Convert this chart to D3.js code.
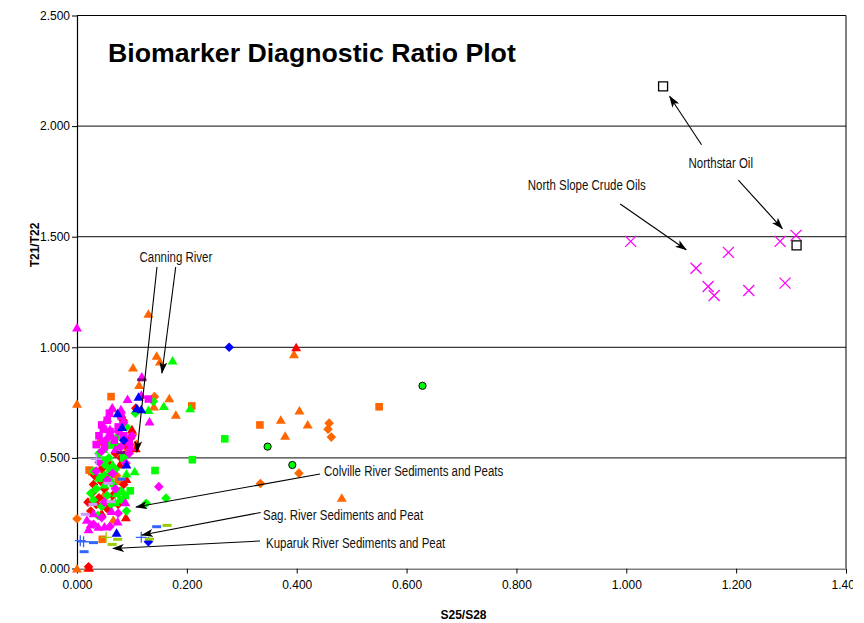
<!DOCTYPE html>
<html>
<head>
<meta charset="utf-8">
<script src="https://cdn.jsdelivr.net/npm/d3@7"></script>
<style>
  body { margin: 0; background: #fff; }
  text { font-family: "Liberation Sans", Arial, sans-serif; }
</style>
</head>
<body>
<svg id="chart" width="864" height="623"></svg>
<script>
// ---- axis ticks ----
const xTicks = [0, 0.2, 0.4, 0.6, 0.8, 1.0, 1.2, 1.4];
const yTicks = [0, 0.5, 1.0, 1.5, 2.0, 2.5];

// ---- sample groups: [S25/S28, T21/T22] ----
const orangeTriangles = [[0,0.745],[0,0],[0.02,0.003],[0.130,1.152],[0.145,0.962],[0.151,0.936],[0.102,0.909],[0.113,0.830],[0.168,0.770],[0.140,0.732],[0.065,0.725],[0.180,0.695],[0.039,0.572],[0.066,0.220],[0.078,0.352],[0.395,0.969],[0.405,0.714],[0.371,0.672],[0.420,0.651],[0.379,0.600],[0.482,0.320],[0.092,0.545],[0.048,0.330]];
const orangeSquares = [[0.062,0.777],[0.209,0.735],[0.333,0.649],[0.550,0.731],[0.027,0.438],[0.046,0.132],[0.022,0.445],[0.075,0.395]];
const orangeDiamonds = [[0,0.225],[0.141,0.777],[0.101,0.607],[0.459,0.657],[0.457,0.630],[0.463,0.594],[0.404,0.431],[0.334,0.384],[0.108,0.560],[0.072,0.420]];
const redDiamonds = [[0.021,0.008],[0.107,0.725],[0.084,0.669],[0.081,0.684],[0.027,0.340],[0.030,0.380],[0.040,0.320],[0.035,0.290],[0.050,0.360],[0.060,0.420],[0.045,0.450],[0.070,0.520],[0.088,0.560],[0.098,0.590],[0.020,0.300],[0.025,0.260],[0.055,0.270],[0.080,0.500],[0.065,0.330],[0.032,0.420],[0.085,0.380],[0.075,0.290],[0.060,0.470],[0.045,0.390]];
const redTriangles = [[0.399,1.0],[0.107,0.544],[0.089,0.232],[0.078,0.470],[0.100,0.630],[0.045,0.250],[0.022,0.004],[0.063,0.300],[0.090,0.405]];
const greenDiamonds = [[0.139,0.755],[0.106,0.702],[0.090,0.260],[0.162,0.318],[0.126,0.295],[0.040,0.520],[0.050,0.470],[0.030,0.440],[0.060,0.400],[0.035,0.360],[0.055,0.330],[0.045,0.280],[0.070,0.450],[0.080,0.350],[0.025,0.340],[0.065,0.380],[0.042,0.410],[0.075,0.600],[0.090,0.640],[0.038,0.240],[0.058,0.500],[0.068,0.560],[0.030,0.310],[0.050,0.420],[0.062,0.290]];
const greenSquares = [[0.269,0.586],[0.210,0.492],[0.142,0.443],[0.097,0.351],[0.054,0.559],[0.050,0.490],[0.080,0.310],[0.060,0.450],[0.075,0.550],[0.085,0.500],[0.088,0.330]];
const greenTriangles = [[0.174,0.940],[0.158,0.735],[0.206,0.725],[0.130,0.717],[0.050,0.380],[0.065,0.470],[0.070,0.300],[0.040,0.410],[0.090,0.430],[0.060,0.560],[0.105,0.440],[0.072,0.340],[0.048,0.540]];
const magentaSquares = [[0.130,0.766],[0.045,0.649],[0.059,0.702],[0.060,0.619],[0.068,0.580],[0.050,0.550],[0.040,0.600],[0.075,0.640],[0.055,0.670],[0.085,0.600],[0.035,0.560],[0.080,0.690],[0.095,0.570],[0.048,0.630]];
const magentaDiamonds = [[0.089,0.476],[0.149,0.370],[0.040,0.480],[0.055,0.400],[0.065,0.430],[0.050,0.300],[0.070,0.360],[0.075,0.620],[0.060,0.600],[0.045,0.530],[0.085,0.660],[0.035,0.440],[0.080,0.550],[0.100,0.600],[0.030,0.200],[0.045,0.230],[0.060,0.190],[0.075,0.250],[0.095,0.520],[0.052,0.580]];
const magentaTriangles = [[0,1.090],[0.118,0.868],[0.117,0.785],[0.092,0.766],[0.132,0.664],[0.064,0.728],[0.097,0.551],[0.021,0.177],[0.039,0.189],[0.050,0.190],[0.018,0.220],[0.030,0.250],[0.060,0.630],[0.080,0.720],[0.045,0.580],[0.070,0.540],[0.088,0.300],[0.063,0.260],[0.025,0.200],[0.074,0.212],[0.055,0.680]];
const blueTriangles = [[0.112,0.777],[0.109,0.725],[0.074,0.702],[0.072,0.162],[0.117,0.720],[0.082,0.640],[0.090,0.470]];
const blueDiamonds = [[0.277,1.0],[0.130,0.121],[0.085,0.580]];
const bluePlus = [[0.006,0.126],[0.012,0.121],[0.117,0.141]];
const blueDashes = [[0.030,0.117],[0.013,0.076],[0.081,0.404],[0.145,0.189]];
const lilacDashes = [[0.029,0.290],[0.015,0.245],[0.062,0.302],[0.057,0.385]];
const lilacPlus = [[0.035,0.494]];
const oliveDashes = [[0.074,0.132],[0.064,0.109],[0.164,0.195],[0.132,0.133]];
const olivePlus = [[0.053,0.141]];
const plumDashes = [[0.118,0.853],[0.080,0.524]];
const greenCircles = [[0.347,0.551],[0.392,0.468],[0.629,0.826]];
const northSlopeOils = [[1.008,1.479],[1.127,1.357],[1.149,1.275],[1.160,1.234],[1.186,1.429],[1.223,1.257],[1.280,1.479],[1.289,1.290],[1.309,1.506]];
const northstarOil = [[1.067,2.180],[1.310,1.461]];

// ---- callout labels and arrows (data units) ----
const calloutLabels = [
  { text: "Canning River", x: 0.180, y: 1.384, anchor: "middle" },
  { text: "Northstar Oil", x: 1.172, y: 1.812, anchor: "middle" },
  { text: "North Slope Crude Oils", x: 0.928, y: 1.713, anchor: "middle" },
  { text: "Colville River Sediments and Peats", x: 0.4497, y: 0.418, anchor: "start" },
  { text: "Sag. River Sediments and Peat", x: 0.3386, y: 0.217, anchor: "start" },
  { text: "Kuparuk River Sediments and Peat", x: 0.3441, y: 0.094, anchor: "start" }
];
const calloutArrows = [
  [[0.1456, 1.363], [0.1092, 0.527]],
  [[0.1797, 1.363], [0.1547, 0.884]],
  [[1.137, 1.916], [1.079, 2.134]],
  [[1.204, 1.756], [1.284, 1.537]],
  [[0.989, 1.648], [1.109, 1.441]],
  [[0.4424, 0.4272], [0.1074, 0.278]],
  [[0.3344, 0.2532], [0.1183, 0.1515]],
  [[0.3332, 0.1243], [0.0655, 0.0904]]
];

// ---- marker styles per group ----
const ORANGE = "#FF6600", RED = "#FF0000", GREEN = "#00FF00", MAGENTA = "#FF00FF",
      BLUE = "#0000FF", LBLUE = "#3366FF", LILAC = "#CC99FF", OLIVE = "#99CC00", PLUM = "#800080";
const groups = [
  { data: orangeTriangles, shape: "triangle", color: ORANGE },
  { data: orangeSquares, shape: "square", color: ORANGE },
  { data: orangeDiamonds, shape: "diamond", color: ORANGE },
  { data: redDiamonds, shape: "diamond", color: RED },
  { data: redTriangles, shape: "triangle", color: RED },
  { data: greenDiamonds, shape: "diamond", color: GREEN },
  { data: greenSquares, shape: "square", color: GREEN },
  { data: greenTriangles, shape: "triangle", color: GREEN },
  { data: magentaSquares, shape: "square", color: MAGENTA },
  { data: magentaDiamonds, shape: "diamond", color: MAGENTA },
  { data: magentaTriangles, shape: "triangle", color: MAGENTA },
  { data: blueTriangles, shape: "triangle", color: BLUE },
  { data: blueDiamonds, shape: "diamond", color: BLUE },
  { data: bluePlus, shape: "plus", color: LBLUE },
  { data: blueDashes, shape: "dash", color: LBLUE },
  { data: lilacDashes, shape: "dash", color: LILAC },
  { data: lilacPlus, shape: "plus", color: LILAC },
  { data: oliveDashes, shape: "dash", color: OLIVE },
  { data: olivePlus, shape: "plus", color: OLIVE },
  { data: plumDashes, shape: "dash", color: PLUM },
  { data: greenCircles, shape: "circle", color: GREEN },
  { data: northSlopeOils, shape: "x", color: MAGENTA },
  { data: northstarOil, shape: "openSquare", color: "#000" }
];

const shapePath = {
  triangle: "M0,-4.5L5,4L-5,4Z",
  square: "M-3.8,-3.8H3.8V3.8H-3.8Z",
  diamond: "M0,-4.8L4.8,0L0,4.8L-4.8,0Z",
  circle: "M3.6,0A3.6,3.6 0 1,1 -3.6,0A3.6,3.6 0 1,1 3.6,0Z",
  x: "M-5.5,-5.5L5.5,5.5M5.5,-5.5L-5.5,5.5",
  plus: "M-5.5,0H5.5M0,-5.5V5.5",
  dash: "M-4.5,-1.5H4.5V1.5H-4.5Z",
  openSquare: "M-4.5,-4.5H4.5V4.5H-4.5Z"
};

// ---- layout ----
const svg = d3.select("#chart");
const W = 864, H = 623;
const plot = { left: 77, right: 846, top: 15.5, bottom: 568.5 };

svg.append("rect").attr("width", W).attr("height", H).attr("fill", "#fff");

const x = d3.scaleLinear().domain([0, 1.4]).range([plot.left, plot.right]);
const y = d3.scaleLinear().domain([0, 2.5]).range([plot.bottom, plot.top]);

// horizontal gridlines
svg.append("g").selectAll("line").data(yTicks.filter(v => v > 0 && v < 2.5)).join("line")
  .attr("x1", plot.left).attr("x2", plot.right)
  .attr("y1", d => y(d)).attr("y2", d => y(d))
  .attr("stroke", "#3a3a3a").attr("stroke-width", 1.2);

// plot frame (top and right)
svg.append("path")
  .attr("d", `M${plot.left},${y(2.5)}H${plot.right}V${plot.bottom}`)
  .attr("fill", "none").attr("stroke", "#000").attr("stroke-width", 1);

// axes
const clip = svg.append("defs").append("clipPath").attr("id", "pageClip");
clip.append("rect").attr("x", 0).attr("y", 0).attr("width", 853).attr("height", H);

const xAxis = svg.append("g")
  .attr("transform", `translate(0,${plot.bottom})`)
  .attr("clip-path", "url(#pageClip)")
  .call(d3.axisBottom(x).tickValues(xTicks).tickFormat(d3.format(".3f")).tickSize(5).tickSizeOuter(0));
const yAxis = svg.append("g")
  .attr("transform", `translate(${plot.left},0)`)
  .call(d3.axisLeft(y).tickValues(yTicks).tickFormat(d3.format(".3f")).tickSize(5).tickSizeOuter(0));

[xAxis, yAxis].forEach(a => {
  a.select(".domain").attr("stroke", "#000").attr("stroke-width", 1.2);
  a.selectAll(".tick line").attr("stroke", "#000");
  a.selectAll(".tick text").attr("fill", "#000")
    .style("font-family", "'Liberation Sans', Arial, sans-serif").style("font-size", "12px");
});
xAxis.selectAll(".tick text").attr("dy", "0.71em").attr("y", 12);
yAxis.selectAll(".tick text").attr("x", -7);

// markers
groups.forEach(g => {
  const hollow = g.shape === "x" || g.shape === "plus" || g.shape === "openSquare";
  svg.append("g").selectAll("path").data(g.data).join("path")
    .attr("transform", d => `translate(${x(d[0])},${y(d[1])})`)
    .attr("d", shapePath[g.shape])
    .attr("fill", g.shape === "openSquare" ? "#fff" : (hollow ? "none" : g.color))
    .attr("stroke", g.shape === "circle" ? "#000" : (hollow ? g.color : "none"))
    .attr("stroke-width", g.shape === "circle" ? 1 : 1.3);
});

// arrows
const defs = svg.select("defs");
defs.append("marker").attr("id", "head")
  .attr("viewBox", "0 0 12 8").attr("refX", 11).attr("refY", 4)
  .attr("markerWidth", 12).attr("markerHeight", 8).attr("markerUnits", "userSpaceOnUse")
  .attr("orient", "auto")
  .append("path").attr("d", "M0,0L12,4L0,8L3,4Z").attr("fill", "#000");

svg.append("g").selectAll("line").data(calloutArrows).join("line")
  .attr("x1", d => x(d[0][0])).attr("y1", d => y(d[0][1]))
  .attr("x2", d => x(d[1][0])).attr("y2", d => y(d[1][1]))
  .attr("stroke", "#000").attr("stroke-width", 1.1)
  .attr("marker-end", "url(#head)");

// callout labels (condensed face)
svg.append("g").selectAll("text").data(calloutLabels).join("text")
  .attr("transform", d => `translate(${x(d.x)},${y(d.y)}) scale(0.82,1)`)
  .attr("text-anchor", d => d.anchor)
  .style("font-size", "14px").attr("fill", "#111")
  .text(d => d.text);

// title
svg.append("text").attr("x", 108).attr("y", 62)
  .style("font-size", "26.7px").style("font-weight", "bold").attr("fill", "#000")
  .text("Biomarker Diagnostic Ratio Plot");

// axis titles
svg.append("text").attr("x", (plot.left + plot.right) / 2 + 2).attr("y", 619)
  .attr("text-anchor", "middle").style("font-size", "12px").style("font-weight", "bold")
  .text("S25/S28");
svg.append("text").attr("transform", `translate(39,245) rotate(-90)`)
  .attr("text-anchor", "middle").style("font-size", "12px").style("font-weight", "bold")
  .text("T21/T22");
</script>
</body>
</html>
